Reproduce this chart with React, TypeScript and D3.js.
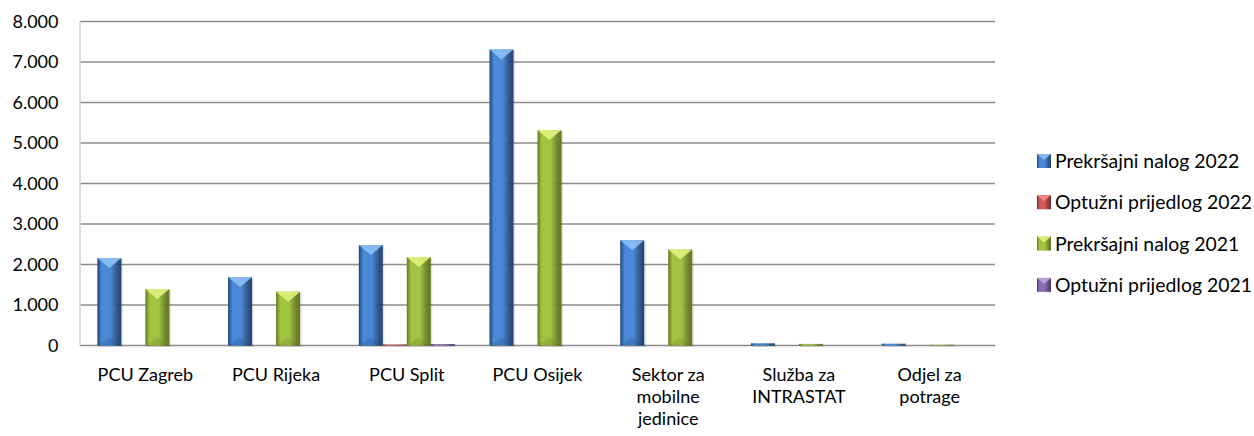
import React from "react";
import * as d3 from "d3";

const categories: string[][] = [
  ["PCU Zagreb"],
  ["PCU Rijeka"],
  ["PCU Split"],
  ["PCU Osijek"],
  ["Sektor za", "mobilne", "jedinice"],
  ["Služba za", "INTRASTAT"],
  ["Odjel za", "potrage"],
];
const seriesNames = [
  "Prekršajni nalog 2022",
  "Optužni prijedlog 2022",
  "Prekršajni nalog 2021",
  "Optužni prijedlog 2021",
];
const prekrsajni2022 = [2160, 1690, 2480, 7310, 2600, 55, 45];
const optuzni2022 = [0, 0, 25, 0, 0, 0, 0];
const prekrsajni2021 = [1395, 1330, 2185, 5320, 2370, 40, 20];
const optuzni2021 = [0, 0, 35, 0, 0, 0, 0];
const yTicks = [0, 1000, 2000, 3000, 4000, 5000, 6000, 7000, 8000];

const seriesValues = [prekrsajni2022, optuzni2022, prekrsajni2021, optuzni2021];
const palette = [
  { edge: "#1d4479", mid: "#4a89d8", top: "#8cc0f5", id: "b" },
  { edge: "#7a2624", mid: "#d05a57", top: "#f08a88", id: "r" },
  { edge: "#62791c", mid: "#a3c443", top: "#e0f27c", id: "g" },
  { edge: "#4b3669", mid: "#8a6db0", top: "#b9a2da", id: "p" },
];

const fmt = (v: number) => (v === 0 ? "0" : d3.format(",")(v).replace(/,/g, "."));
const FONT = "Lato, 'Liberation Sans', sans-serif";

function Bar({ x, y, w, h, c }: { x: number; y: number; w: number; h: number; c: typeof palette[0] }) {
  if (h <= 0) return null;
  const tri = Math.min(10, h / 2);
  return (
    <g>
      <rect x={x + 1.5} y={y + 1.5} width={w} height={h} fill="#000" opacity={0.12} />
      <rect x={x} y={y} width={w} height={h} fill={`url(#grad-${c.id})`} />
      {h > 4 && (
        <polygon
          points={`${x},${y} ${x + w},${y} ${x + w / 2},${y + tri}`}
          fill={c.top}
          opacity={0.9}
        />
      )}
      {h > 20 && (
        <polygon
          points={`${x},${y + h} ${x + w},${y + h} ${x + w / 2},${y + h - 8}`}
          fill={c.edge}
          opacity={0.25}
        />
      )}
    </g>
  );
}

export default function App() {
  const W = 1254;
  const H = 436;
  const left = 80;
  const right = 995;
  const top = 21.5;
  const bottom = 345.5;

  const y = d3.scaleLinear().domain([0, 8000]).range([bottom, top]);
  const x0 = d3
    .scaleBand<number>()
    .domain(categories.map((_, i) => i))
    .range([left, right])
    .paddingInner(0)
    .paddingOuter(0);
  const x1 = d3
    .scaleBand<number>()
    .domain(seriesNames.map((_, i) => i))
    .range([0, x0.bandwidth()])
    .paddingInner(0)
    .paddingOuter(0.723);

  return (
    <svg
      width={W}
      height={H}
      style={{ position: "absolute", left: 0, top: 0, background: "#fff" }}
      fontFamily={FONT}
    >
      <defs>
        {palette.map((c) => (
          <linearGradient key={c.id} id={`grad-${c.id}`} x1="0" x2="1" y1="0" y2="0">
            <stop offset="0%" stopColor={c.edge} />
            <stop offset="18%" stopColor={c.mid} />
            <stop offset="55%" stopColor={c.mid} />
            <stop offset="85%" stopColor={c.edge} stopOpacity={0.9} />
            <stop offset="100%" stopColor={c.edge} />
          </linearGradient>
        ))}
      </defs>
      {yTicks.map((t) => (
        <g key={t}>
          <line x1={left} x2={right} y1={y(t)} y2={y(t)} stroke="#8c8c8c" strokeWidth={1.6} />
          <text x={58.5} y={y(t)} dy="0.36em" textAnchor="end" fontSize={18} fill="#000">
            {fmt(t)}
          </text>
        </g>
      ))}
      <line x1={left} x2={left} y1={top} y2={bottom} stroke="#d0d0d0" strokeWidth={1.5} />
      {categories.map((_, ci) =>
        seriesValues.map((vals, si) => {
          const v = vals[ci];
          const bx = (x0(ci) as number) + (x1(si) as number);
          const by = y(v);
          return (
            <Bar
              key={`${ci}-${si}`}
              x={bx}
              y={by}
              w={x1.bandwidth()}
              h={bottom - by}
              c={palette[si]}
            />
          );
        })
      )}
      {categories.map((lines, ci) => (
        <text
          key={ci}
          x={(x0(ci) as number) + x0.bandwidth() / 2}
          y={381}
          textAnchor="middle"
          fontSize={18}
          fill="#000"
        >
          {lines.map((l, li) => (
            <tspan key={li} x={(x0(ci) as number) + x0.bandwidth() / 2} dy={li === 0 ? 0 : 22}>
              {l}
            </tspan>
          ))}
        </text>
      ))}
      {seriesNames.map((s, i) => {
        const ly = 161 + i * 41.3;
        const c = palette[i];
        return (
          <g key={s}>
            <rect x={1037} y={ly - 7} width={14} height={14} fill={`url(#grad-${c.id})`} />
            <polygon
              points={`1037,${ly - 7} 1051,${ly - 7} 1044,${ly - 1}`}
              fill={c.top}
              opacity={0.9}
            />
            <text x={1055} y={ly} dy="0.36em" fontSize={19.4} fill="#000">
              {s}
            </text>
          </g>
        );
      })}
    </svg>
  );
}
